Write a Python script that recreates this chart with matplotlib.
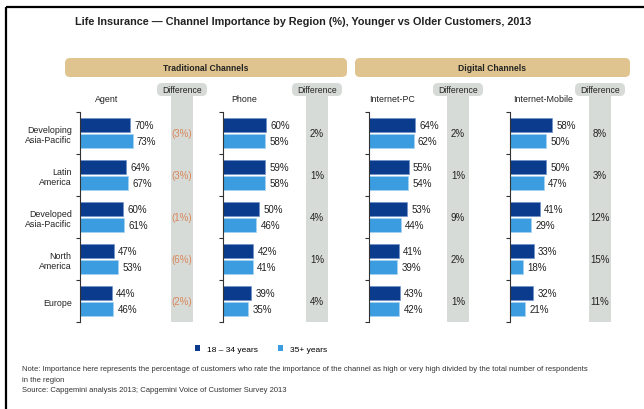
import matplotlib
matplotlib.use("Agg")
import matplotlib.pyplot as plt
from matplotlib.patches import FancyBboxPatch, Rectangle, Patch
import numpy as np

plt.rcParams["font.family"] = ["Liberation Sans", "DejaVu Sans"]

# ---- data -------------------------------------------------------------
regions = ["Developing\nAsia-Pacific", "Latin\nAmerica", "Developed\nAsia-Pacific",
           "North\nAmerica", "Europe"]
channels = ["Agent", "Phone", "Internet-PC", "Internet-Mobile"]
young = {
    "Agent": [70, 64, 60, 47, 44],
    "Phone": [60, 59, 50, 42, 39],
    "Internet-PC": [64, 55, 53, 41, 43],
    "Internet-Mobile": [58, 50, 41, 33, 32],
}
older = {
    "Agent": [73, 67, 61, 53, 46],
    "Phone": [58, 58, 46, 41, 35],
    "Internet-PC": [62, 54, 44, 39, 42],
    "Internet-Mobile": [50, 47, 29, 18, 21],
}
group_names = ["Traditional Channels", "Digital Channels"]
series_names = ["18 \u2013 34 years", "35+ years"]

title = "Life Insurance \u2014 Channel Importance by Region (%), Younger vs Older Customers, 2013"
note_lines = [
    "Note: Importance here represents the percentage of customers who rate the importance of the "
    "channel as high or very high divided by the total number of respondents",
    "in the region",
    "Source: Capgemini analysis 2013; Capgemini Voice of Customer Survey 2013",
]

# ---- styling ----------------------------------------------------------
W, H = 644, 410
DARK = "#0b3b8c"
LIGHT = "#3b9de0"
TAN = "#dfc48f"
GREY = "#d6dbd8"
NEG = "#d9875a"
TXT = "#222222"

# pixel layout of each panel: bar axes left edge, difference column left edge, header centre
panel_x = [80, 223, 369, 510]
diff_x = [171, 306, 447, 589]
head_cx = [107, 244, 392, 543]
bar_w = 72          # px for 0..100 %
col_w = 22
top, bottom = 113, 323

fig = plt.figure(figsize=(W / 100, H / 100), dpi=100)

# background layer in pixel coordinates
bg = fig.add_axes([0, 0, 1, 1])
bg.set_xlim(0, W)
bg.set_ylim(H, 0)
bg.axis("off")


def frac(x, y):
    return x / W, 1 - y / H


# frame lines (top and left)
bg.plot([6, W], [8, 8], color="black", lw=1.6, solid_capstyle="butt")
bg.plot([6, 6], [8, H], color="black", lw=1.6, solid_capstyle="butt")

bg.text(75, 22, title, fontsize=7.8, fontweight="bold", color=TXT, ha="left", va="center")

# group banners
for (x0, x1), name in zip([(65, 347), (355, 630)], group_names):
    bg.add_patch(FancyBboxPatch((x0, 59), x1 - x0, 19,
                                boxstyle="round,pad=0,rounding_size=5",
                                fc=TAN, ec="none"))
    bg.text((x0 + x1) / 2, 68.5, name, fontsize=6.2, fontweight="bold",
            color=TXT, ha="center", va="center")

ys = np.arange(len(regions))
for k, ch in enumerate(channels):
    yv = np.array(young[ch])
    ov = np.array(older[ch])
    diff = yv - ov

    # difference column + header tab
    cx = diff_x[k]
    bg.add_patch(Rectangle((cx, 92), col_w, bottom - 92, fc=GREY, ec="none"))
    bg.add_patch(FancyBboxPatch((cx + col_w / 2 - 25, 84), 50, 13,
                                boxstyle="round,pad=0,rounding_size=5",
                                fc=GREY, ec="none"))
    bg.text(cx + col_w / 2, 90.5, "Difference", fontsize=6.2, color=TXT,
            ha="center", va="center")
    bg.text(head_cx[k], 99, ch, fontsize=6.4, color=TXT, ha="center", va="center")

    # bars
    l, b = frac(panel_x[k], bottom)
    ax = fig.add_axes([l, b, bar_w / W, (bottom - top) / H])
    ax.patch.set_alpha(0)
    ax.barh(ys - 0.195, yv, height=0.34, color=DARK, edgecolor="#6f93cc", lw=0.5)
    ax.barh(ys + 0.195, ov, height=0.34, color=LIGHT, edgecolor="#a9d3f3", lw=0.5)
    for y, a, o in zip(ys, yv, ov):
        ax.text(a + 6, y - 0.195, f"{a}%", fontsize=7, color=TXT, va="center", ha="left")
        ax.text(o + 6, y + 0.195, f"{o}%", fontsize=7, color=TXT, va="center", ha="left")
    ax.set_xlim(0, 100)
    ax.set_ylim(len(regions) - 0.5, -0.5)
    for s in ("top", "right", "bottom"):
        ax.spines[s].set_visible(False)
    ax.spines["left"].set_color("#333333")
    ax.spines["left"].set_linewidth(0.8)
    ax.set_xticks([])
    ax.set_yticks(ys)
    ax.set_yticks(np.arange(len(regions) + 1) - 0.5, minor=True)
    ax.tick_params(axis="y", which="major", length=0, pad=6)
    ax.tick_params(axis="y", which="minor", length=3, width=0.8, color="#333333")
    if k == 0:
        ax.set_yticklabels(regions, fontsize=6.4, color=TXT)
    else:
        ax.set_yticklabels([])

    # difference values
    l2, _ = frac(cx, bottom)
    dax = fig.add_axes([l2, b, col_w / W, (bottom - top) / H])
    dax.patch.set_alpha(0)
    dax.axis("off")
    dax.set_xlim(0, 1)
    dax.set_ylim(len(regions) - 0.5, -0.5)
    for y, d in zip(ys, diff):
        label = f"({abs(d)}%)" if d < 0 else f"{d}%"
        dax.text(0.5, y, label, fontsize=7, color=NEG if d < 0 else TXT,
                 ha="center", va="center")

# legend
handles = [Patch(fc=DARK, ec="none"), Patch(fc=LIGHT, ec="none")]
fig.legend(handles, series_names, loc="center", bbox_to_anchor=frac(261, 350),
           ncol=2, frameon=False, fontsize=6.0, handlelength=0.6, handleheight=0.6,
           handletextpad=0.8, columnspacing=2.4)

for i, line in enumerate(note_lines):
    bg.text(22, 370 + i * 10.5, line, fontsize=5.5, color="#333333", ha="left", va="center")

fig.savefig("out.png", dpi=100)
